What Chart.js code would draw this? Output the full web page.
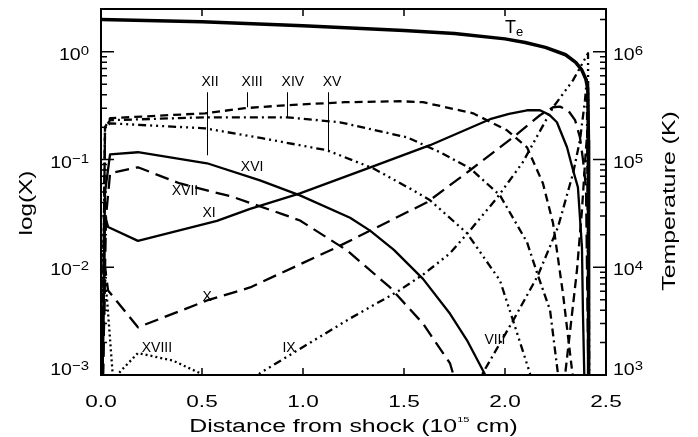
<!DOCTYPE html>
<html lang="en">
<head>
<meta charset="UTF-8">
<title>Ion fractions behind the shock</title>
<script src="https://cdn.jsdelivr.net/npm/chart.js"></script>
<style>
  html, body { margin: 0; padding: 0; background: #fff; }
  #wrap { width: 698px; height: 437px; }
</style>
</head>
<body>
<div id="wrap"><canvas id="ionChart" width="698" height="437"></canvas></div>
<script>
// distance from shock (1e15 cm) and ion fraction X
const xXVIII = [0.0, 0.03, 0.06, 0.1, 0.183, 0.356, 0.49, 0.52];
const yXVIII = [0.02, 0.005, 0.0009, 0.0011, 0.0016, 0.00136, 0.00104, 0.0009];

const xXVII = [0.0, 0.025, 0.045, 0.183, 0.391, 0.653, 0.901, 0.985, 1.218, 1.431, 1.594, 1.728, 1.76];
const yXVII = [1e-4, 0.03, 0.0746, 0.0848, 0.060, 0.045, 0.031, 0.0272, 0.01436, 0.0065, 0.0030, 0.00128, 0.0008];

const xXVI = [0.0, 0.02, 0.045, 0.183, 0.525, 0.787, 0.985, 1.233, 1.332, 1.45, 1.594, 1.728, 1.812, 1.90, 1.92];
const yXVI = [1e-4, 0.05, 0.112, 0.117, 0.0924, 0.064, 0.0465, 0.0288, 0.0219, 0.0145, 0.0078, 0.0037, 0.0021, 0.00102, 0.0008];

const xXV = [0.0, 0.02, 0.045, 0.515, 0.797, 1.119, 1.347, 1.545, 1.629, 1.812, 1.975, 2.04, 2.124, 2.13];
const yXV = [1e-4, 0.2, 0.217, 0.195, 0.158, 0.122, 0.083, 0.0519, 0.0419, 0.0207, 0.00755, 0.0032, 0.00103, 0.0008];

const xXIV = [0.0, 0.02, 0.045, 0.515, 0.921, 1.183, 1.515, 1.678, 1.827, 1.975, 2.109, 2.163, 2.223, 2.262, 2.27];
const yXIV = [1e-4, 0.2, 0.232, 0.247, 0.247, 0.222, 0.161, 0.117, 0.083, 0.0466, 0.0171, 0.0084, 0.0040, 0.00103, 0.0008];

const xXIII = [0.0, 0.02, 0.045, 0.515, 0.713, 0.921, 1.208, 1.48, 1.594, 1.842, 2.01, 2.109, 2.188, 2.238, 2.287, 2.332, 2.345];
const yXIII = [1e-4, 0.2, 0.242, 0.269, 0.30, 0.32, 0.341, 0.348, 0.341, 0.269, 0.187, 0.130, 0.060, 0.0256, 0.0057, 0.0011, 0.0007];

const xXI = [0.0, 0.02, 0.035, 0.183, 0.574, 0.738, 0.985, 1.233, 1.347, 1.629, 1.926, 2.02, 2.109, 2.173, 2.22, 2.257, 2.307, 2.337, 2.361, 2.381, 2.386, 2.396];
const yXI = [1e-4, 0.03, 0.0237, 0.0176, 0.027, 0.0349, 0.0486, 0.072, 0.0865, 0.136, 0.237, 0.266, 0.287, 0.287, 0.26, 0.222, 0.130, 0.0796, 0.0553, 0.0153, 0.0037, 0.0005];

const xX = [0.0, 0.02, 0.035, 0.183, 0.525, 0.738, 1.166, 1.614, 1.827, 2.040, 2.173, 2.238, 2.272, 2.312, 2.347, 2.371, 2.386, 2.401, 2.416];
const yX = [1e-4, 0.01, 0.0061, 0.00277, 0.00492, 0.0065, 0.0153, 0.0401, 0.0796, 0.161, 0.258, 0.306, 0.31, 0.287, 0.232, 0.161, 0.10, 0.0553, 0.0003];

const xIX = [0.76, 0.787, 1.233, 1.465, 1.6, 1.728, 1.827, 1.96, 2.089, 2.238, 2.337, 2.411, 2.418];
const yIX = [0.0008, 0.00104, 0.00335, 0.0059, 0.0087, 0.0135, 0.022, 0.044, 0.095, 0.306, 0.546, 0.97, 0.0003];

const xVIII = [1.87, 1.891, 2.04, 2.163, 2.262, 2.337, 2.371, 2.396, 2.405, 2.416];
const yVIII = [0.0008, 0.00105, 0.0032, 0.0084, 0.0235, 0.0746, 0.151, 0.356, 0.55, 0.0003];

const xVII = [2.29, 2.30, 2.356, 2.381, 2.40, 2.41, 2.417];
const yVII = [0.0008, 0.0011, 0.0093, 0.034, 0.12, 0.2, 0.0003];

// electron temperature (K), right axis
const xTe = [0.0, 0.5, 1.0, 1.5, 1.75, 2.0, 2.1, 2.2, 2.3, 2.35, 2.38, 2.40, 2.41, 2.413, 2.414];
const yTe = [2.0e6, 1.9e6, 1.75e6, 1.58e6, 1.48e6, 1.32e6, 1.22e6, 1.10e6, 0.94e6, 0.8e6, 0.68e6, 0.56e6, 0.45e6, 1.5e5, 5e2];

// axes
const xTicks = [0.0, 0.5, 1.0, 1.5, 2.0, 2.5];
const xTickLabels = ['0.0', '0.5', '1.0', '1.5', '2.0', '2.5'];
const leftExp = ['\u22123', '\u22122', '\u22121', '0'];
const rightExp = ['3', '4', '5', '6'];
const decades = [-3, -2, -1, 0];

// ion labels (baseline position in data units)
const ionNames = ['XII', 'XIII', 'XIV', 'XV', 'XVI', 'XVII', 'XI', 'X', 'XVIII', 'IX', 'VIII'];
const ionLabelX = [0.540, 0.748, 0.950, 1.144, 0.748, 0.416, 0.535, 0.525, 0.277, 0.931, 1.950];
const ionLabelY = [0.480, 0.480, 0.480, 0.480, 0.0779, 0.0465, 0.0291, 0.00482, 0.00162, 0.00162, 0.00196];

// pointer lines under XII..XV
const pointerX = [0.525, 0.723, 0.921, 1.124];
const pointerTop = [0.422, 0.422, 0.422, 0.422];
const pointerBottom = [0.1096, 0.306, 0.247, 0.117];

const FONT = '"Liberation Sans", Arial, Helvetica, sans-serif';
const SX = 1.33;

function pts(xs, ys) {
  return xs.map((x, i) => ({ x: x, y: ys[i] }));
}

function line(xs, ys, dash, width, axis) {
  return {
    data: pts(xs, ys),
    borderColor: '#000',
    borderWidth: width || 2.3,
    borderDash: dash,
    borderCapStyle: 'butt',
    borderJoinStyle: 'round',
    pointRadius: 0,
    fill: false,
    tension: 0,
    yAxisID: axis || 'y'
  };
}

const LONG = [14, 7];
const SHORT = [8, 5];
const DASHDOT = [8, 4, 2, 4];
const DASH3DOT = [8, 4, 2, 4, 2, 4, 2, 4];
const DOT = [2, 3];

function textW(ctx, s, size, sx) {
  ctx.font = size + 'px ' + FONT;
  return ctx.measureText(s).width * (sx || SX);
}

function put(ctx, s, x, y, size, align, sx) {
  ctx.save();
  ctx.font = size + 'px ' + FONT;
  ctx.textAlign = align;
  ctx.textBaseline = 'alphabetic';
  ctx.translate(x, y);
  ctx.scale(sx || SX, 1);
  ctx.fillText(s, 0, 0);
  ctx.restore();
}

// parts: [text, size, raise]
function putRun(ctx, parts, x, y, align, sx) {
  const w = parts.map(p => textW(ctx, p[0], p[1], sx));
  const total = w.reduce((a, b) => a + b, 0);
  let cx = align === 'right' ? x - total : align === 'center' ? x - total / 2 : x;
  parts.forEach((p, i) => {
    put(ctx, p[0], cx, y - p[2], p[1], 'left', sx);
    cx += w[i];
  });
}

const frame = {
  id: 'frame',
  afterDatasetsDraw(chart) {
    const ctx = chart.ctx, a = chart.chartArea;
    const xs = chart.scales.x, ys = chart.scales.y, y2 = chart.scales.y2;
    ctx.save();
    ctx.fillStyle = '#000';
    ctx.strokeStyle = '#000';

    // label pointers
    ctx.lineWidth = 1;
    ctx.beginPath();
    pointerX.forEach((v, i) => {
      const px = Math.round(xs.getPixelForValue(v)) + 0.5;
      ctx.moveTo(px, ys.getPixelForValue(pointerTop[i]));
      ctx.lineTo(px, ys.getPixelForValue(pointerBottom[i]));
    });
    ctx.stroke();

    // box
    ctx.lineWidth = 2;
    ctx.strokeRect(a.left, a.top, a.right - a.left, a.bottom - a.top);

    // ticks
    ctx.lineWidth = 1.5;
    ctx.beginPath();
    xTicks.forEach(v => {
      const p = xs.getPixelForValue(v);
      ctx.moveTo(p, a.bottom); ctx.lineTo(p, a.bottom - 7);
      ctx.moveTo(p, a.top); ctx.lineTo(p, a.top + 7);
    });
    decades.forEach(d => {
      for (let k = 1; k <= 9; k++) {
        const v = k * Math.pow(10, d);
        if (v > ys.max) break;
        const p = ys.getPixelForValue(v);
        const len = k === 1 ? 13 : 6;
        ctx.moveTo(a.left, p); ctx.lineTo(a.left + len, p);
        ctx.moveTo(a.right, p); ctx.lineTo(a.right - len, p);
      }
    });
    ctx.stroke();

    // x tick labels
    xTicks.forEach((v, i) => {
      put(ctx, xTickLabels[i], xs.getPixelForValue(v), a.bottom + 32, 17, 'center');
    });

    // y tick labels, left and right
    decades.forEach((d, i) => {
      const p = ys.getPixelForValue(Math.pow(10, d));
      const base = i === 0 ? p : p + 8;
      putRun(ctx, [['10', 17, 0], [leftExp[i], 13, 5]], a.left - 12, base, 'right', 1.15);
      const q = y2.getPixelForValue(Math.pow(10, d + 6));
      const base2 = i === 0 ? q : q + 8;
      putRun(ctx, [['10', 17, 0], [rightExp[i], 13, 5]], a.right + 7, base2, 'left', 1.15);
    });

    // axis titles
    putRun(ctx, [['Distance from shock (10', 18, 0], ['15', 8, 10], [' cm)', 18, 0]],
      (a.left + a.right) / 2, a.bottom + 57, 'center', 1.38);

    ctx.save();
    ctx.translate(32, (a.top + a.bottom) / 2 + 11);
    ctx.rotate(-Math.PI / 2);
    put(ctx, 'log(X)', 0, 0, 18, 'center', 1.35);
    ctx.restore();

    ctx.save();
    ctx.translate(675, (a.top + a.bottom) / 2 + 9);
    ctx.rotate(-Math.PI / 2);
    put(ctx, 'Temperature (K)', 0, 0, 18, 'center', 1.38);
    ctx.restore();

    // ion labels
    ionNames.forEach((s, i) => {
      put(ctx, s, xs.getPixelForValue(ionLabelX[i]), ys.getPixelForValue(ionLabelY[i]), 14, 'center', 1.0);
    });

    // T_e label
    const tx = xs.getPixelForValue(2.0), ty = y2.getPixelForValue(1.49e6);
    put(ctx, 'T', tx, ty, 18, 'left', 1.0);
    put(ctx, 'e', tx + textW(ctx, 'T', 18, 1.0), ty + 3, 13, 'left', 1.0);

    ctx.restore();
  }
};

new Chart(document.getElementById('ionChart'), {
  type: 'line',
  data: {
    datasets: [
      line(xTe, yTe, [], 3.5, 'y2'),
      line(xXVIII, yXVIII, DOT),
      line(xXVII, yXVII, LONG),
      line(xXVI, yXVI, []),
      line(xXV, yXV, DASH3DOT),
      line(xXIV, yXIV, DASHDOT),
      line(xXIII, yXIII, SHORT),
      line(xXI, yXI, []),
      line(xX, yX, LONG),
      line(xIX, yIX, DASH3DOT),
      line(xVIII, yVIII, DASHDOT),
      line(xVII, yVII, [9, 5])
    ]
  },
  options: {
    responsive: false,
    animation: false,
    devicePixelRatio: 1,
    layout: { padding: { left: 101, right: 92, top: 9, bottom: 62 } },
    plugins: { legend: { display: false }, tooltip: { enabled: false } },
    scales: {
      x: { type: 'linear', min: 0, max: 2.5, display: false },
      y: { type: 'logarithmic', min: 1e-3, max: 2.5, display: false },
      y2: { type: 'logarithmic', min: 1e3, max: 2.5e6, display: false, position: 'right' }
    }
  },
  plugins: [frame]
});
</script>
</body>
</html>
